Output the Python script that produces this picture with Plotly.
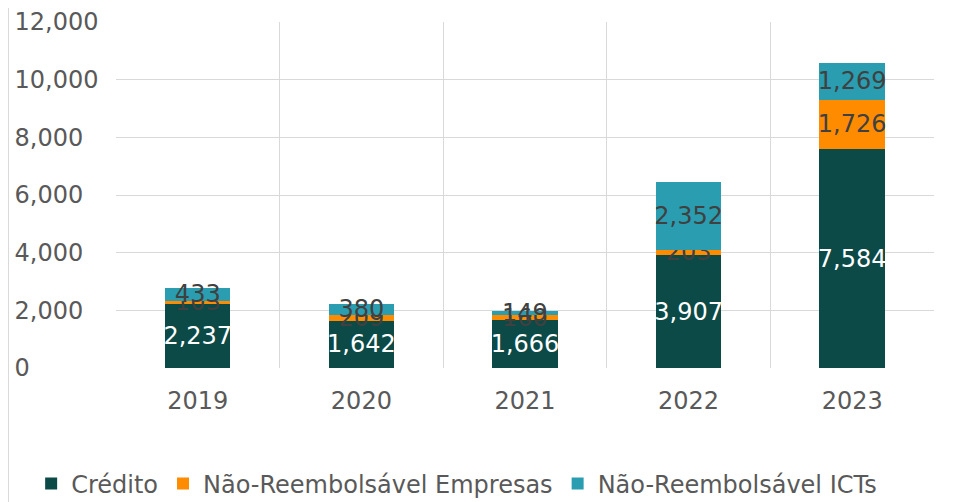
import plotly.graph_objects as go

years = ["2019", "2020", "2021", "2022", "2023"]
credito = [2237, 1642, 1666, 3907, 7584]
nr_empresas = [103, 209, 160, 203, 1726]
nr_icts = [433, 380, 149, 2352, 1269]

series_names = ["Crédito", "Não-Reembolsável Empresas", "Não-Reembolsável ICTs"]
colors = ["#0c4a47", "#ff8c00", "#2a9db0"]
text_colors = ["#ffffff", "#404040", "#404040"]

FONT = "DejaVu Sans"

x_pos = list(range(len(years)))
boundaries = [i - 0.5 for i in range(len(years) + 1)]

fig = go.Figure()
for name, vals, col, tcol in zip(series_names, [credito, nr_empresas, nr_icts], colors, text_colors):
    fig.add_trace(go.Bar(
        x=x_pos, y=vals, name=name,
        marker=dict(color=col, line=dict(width=0)),
        width=0.4,
        texttemplate="%{y:,}",
        textposition="inside",
        textangle=0,
        insidetextanchor="middle",
        constraintext="none",
        textfont=dict(color=tcol, size=24, family=FONT),
    ))

# page body has an 8px margin, so the figure is sized 947x494
fig.update_layout(
    barmode="stack",
    width=947, height=494,
    paper_bgcolor="white", plot_bgcolor="white",
    margin=dict(l=0, r=21, t=14, b=134, autoexpand=False),
    font=dict(family=FONT, color="#595959"),
    showlegend=True,
    legend=dict(orientation="h", x=0.025, xanchor="left", y=-0.335, yanchor="middle",
                font=dict(size=24, color="#595959", family=FONT), traceorder="normal",
                itemwidth=30, tracegroupgap=0, bgcolor="rgba(0,0,0,0)"),
    xaxis=dict(
        domain=[0.1166, 1.0],
        range=[-0.5, 4.5],
        tickmode="array", tickvals=x_pos, ticktext=years,
        showgrid=False, zeroline=False, showline=False,
        ticks="", ticklabelstandoff=16, automargin=False,
        tickfont=dict(size=24, color="#595959"),
        minor=dict(tickmode="array", tickvals=boundaries, showgrid=True,
                   gridcolor="#d9d9d9", gridwidth=1, ticks=""),
    ),
    yaxis=dict(
        range=[0, 12000], tickvals=list(range(0, 12001, 2000)),
        tickformat=",", side="right", anchor="free", position=0.006,
        showgrid=True, gridcolor="#d9d9d9", gridwidth=1, automargin=False,
        zeroline=False, showline=False, ticks="",
        tickfont=dict(size=24, color="#595959"),
    ),
    shapes=[dict(type="line", xref="paper", yref="paper", x0=0.0005, x1=0.0005,
                 y0=-1, y1=2, line=dict(color="#d9d9d9", width=1), layer="below")],
)

fig.write_html("out.html")
